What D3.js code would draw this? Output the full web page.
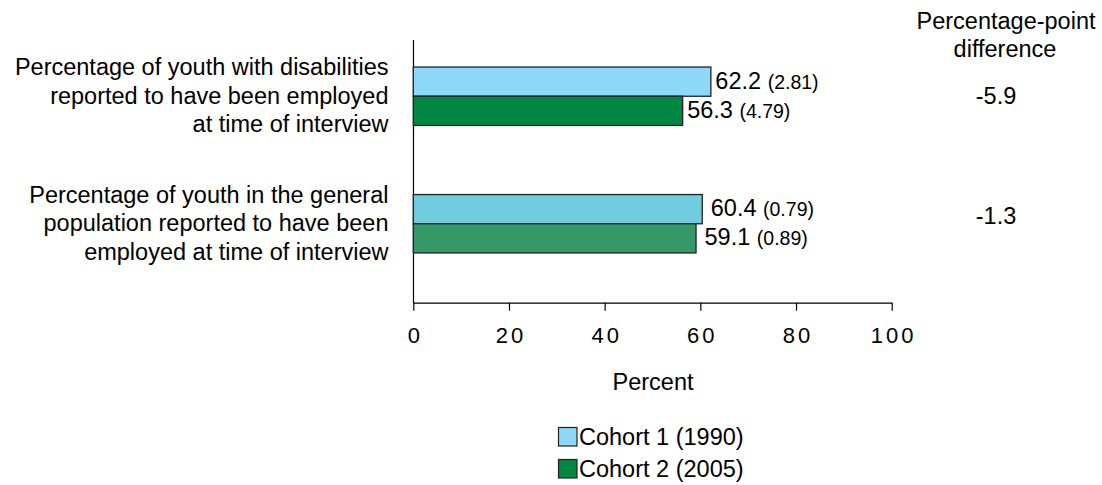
<!DOCTYPE html>
<html><head><meta charset="utf-8">
<script src="https://cdn.jsdelivr.net/npm/d3@7"></script>
<style>
body{margin:0;background:#fff;}
text{font-family:"Liberation Sans",Arial,sans-serif;fill:#000;}
</style></head>
<body><svg id="c" width="1102" height="485"></svg>
<script>
const categories = [
  ["Percentage of youth with disabilities","reported to have been employed","at time of interview"],
  ["Percentage of youth in the general","population reported to have been","employed at time of interview"]
];
const catKeys = ["disabilities","general"];
const cohorts = ["Cohort 1 (1990)","Cohort 2 (2005)"];
const cohort1Values = [62.2, 60.4];
const cohort1SE = ["2.81","0.79"];
const cohort2Values = [56.3, 59.1];
const cohort2SE = ["4.79","0.89"];
const differences = ["-5.9","-1.3"];
const xTicks = [0,20,40,60,80,100];
const barColors = [["#8ED8F8","#008742"],["#70CDE0","#349966"]];
const legendColors = ["#8ED8F8","#008742"];

const FS = "23.5px";
const svg = d3.select("#c");
const x = d3.scaleLinear().domain([0,100]).range([413.3,891.7]);
const y0 = d3.scaleBand().domain(catKeys).range([32.5,287.5]);
const groupH = 58.4;
const y1 = d3.scaleBand().domain(cohorts).range([0,groupH]);

// y axis line
svg.append("line").attr("x1",413.5).attr("x2",413.5).attr("y1",40).attr("y2",303).attr("stroke","#000").attr("stroke-width",1.2);

// x axis
const ls = 3;
const xAxis = d3.axisBottom(x).tickValues(xTicks).tickSize(8).tickSizeOuter(0).tickPadding(14);
const gx = svg.append("g").attr("transform","translate(0,302.7)").call(xAxis);
gx.select(".domain").attr("stroke","#000").attr("stroke-width",1.2);
gx.selectAll(".tick line").attr("stroke","#000").attr("stroke-width",1.2);
gx.selectAll(".tick text").attr("font-size","22px").attr("letter-spacing",ls+"px")
  .attr("dy",null).attr("y",40.5).attr("dx",ls/2)
  .style("font-family","'Liberation Sans',Arial,sans-serif").attr("fill","#000");

svg.append("text").attr("x",653).attr("y",390).attr("text-anchor","middle").attr("font-size",FS).text("Percent");

const data = catKeys.map((k,i)=>({k,i,vals:[
  {c:cohorts[0],v:cohort1Values[i],se:cohort1SE[i]},
  {c:cohorts[1],v:cohort2Values[i],se:cohort2SE[i]}]}));

const off = (y0.bandwidth()-groupH)/2;
data.forEach(d=>{
  const cy = y0(d.k)+y0.bandwidth()/2;
  const g = svg.append("g").attr("transform",`translate(0,${y0(d.k)+off})`);
  d.vals.forEach((b,j)=>{
    g.append("rect").attr("x",x(0)).attr("y",y1(b.c))
      .attr("width",x(b.v)-x(0)).attr("height",y1.bandwidth())
      .attr("fill",barColors[d.i][j]).attr("stroke","#222").attr("stroke-width",1.3);
    const t = g.append("text").attr("x",x(b.v)+(d.i===0?4.5:8.5)).attr("y",y1(b.c)+y1.bandwidth()/2+7).attr("font-size",FS);
    t.append("tspan").text(b.v.toFixed(1)+" ");
    t.append("tspan").attr("font-size","19.5px").text("("+b.se+")");
  });
  // category label
  const lab = svg.append("text").attr("text-anchor","end").attr("font-size",FS);
  categories[d.i].forEach((line,li)=>{
    lab.append("tspan").attr("x",388.5).attr("y",cy-21+li*28.5).text(line);
  });
  // difference
  svg.append("text").attr("x",996).attr("y",cy+(d.i===0?8:0)).attr("text-anchor","middle").attr("font-size",FS).text(differences[d.i]);
});

svg.append("text").attr("x",1006).attr("y",28.5).attr("text-anchor","middle").attr("font-size",FS).text("Percentage-point");
svg.append("text").attr("x",1005).attr("y",57).attr("text-anchor","middle").attr("font-size",FS).text("difference");

// legend
const lg = svg.append("g");
cohorts.forEach((c,i)=>{
  lg.append("rect").attr("x",558.5).attr("y",427.5+i*32).attr("width",18.5).attr("height",18.5)
    .attr("fill",legendColors[i]).attr("stroke","#222").attr("stroke-width",1.2);
  lg.append("text").attr("x",579).attr("y",445+i*32).attr("font-size",FS).text(c);
});
</script></body></html>
